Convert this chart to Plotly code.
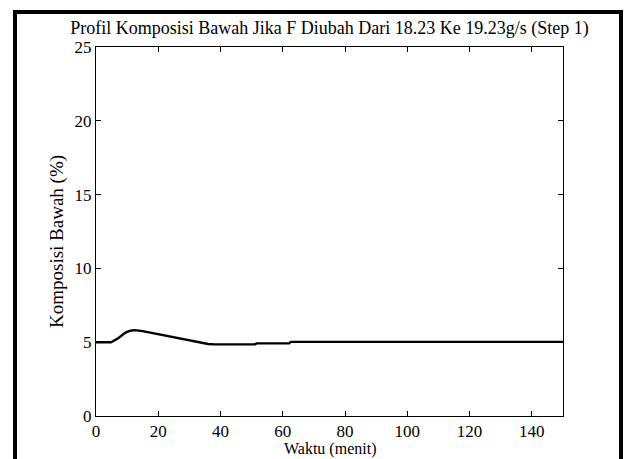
import plotly.graph_objects as go

# Bottom composition response after the feed-rate step
waktu = [0, 4.8, 7, 9.5, 11, 12.5, 15, 20, 25, 30, 33, 36, 38, 51, 51.6, 62, 62.6, 150]
komposisi = [5.0, 5.0, 5.25, 5.65, 5.78, 5.82, 5.75, 5.55, 5.32, 5.1, 4.98, 4.88, 4.85,
             4.85, 4.92, 4.92, 5.02, 5.02]

x_ticks = [0, 20, 40, 60, 80, 100, 120, 140]
y_ticks = [0, 5, 10, 15, 20, 25]

judul = "Profil Komposisi Bawah Jika F Diubah Dari 18.23 Ke 19.23g/s (Step 1)"
label_x = "Waktu (menit)"
label_y = "Komposisi Bawah (%)"

FONT = "Liberation Serif"

fig = go.Figure()
fig.add_trace(go.Scatter(
    x=waktu, y=komposisi, mode="lines",
    line=dict(color="black", width=2.4),
    hoverinfo="skip", showlegend=False,
))

axis_common = dict(
    showline=True, linecolor="black", linewidth=1, mirror="allticks",
    ticks="inside", ticklen=5, tickwidth=1, tickcolor="black",
    showgrid=False, zeroline=False,
    tickfont=dict(family=FONT, size=17, color="black"),
)

fig.update_xaxes(range=[0, 150], tickvals=x_ticks, **axis_common)
fig.update_yaxes(range=[0, 25], tickvals=y_ticks, **axis_common)

fig.update_layout(
    width=624, height=459,
    margin=dict(l=96, r=61, t=47, b=43),
    paper_bgcolor="white", plot_bgcolor="white",
    font=dict(family=FONT, size=17, color="black"),
    title=dict(text=judul, x=0.5, xref="paper", xanchor="center",
               y=1 - 28 / 459, yref="container", yanchor="middle",
               font=dict(family=FONT, size=18, color="black")),
    annotations=[
        dict(text=label_x, xref="paper", yref="paper", x=0.5, y=(416 - 449) / 369,
             xanchor="center", yanchor="middle", showarrow=False,
             font=dict(family=FONT, size=16, color="black")),
        dict(text=label_y, xref="paper", yref="paper", x=(57 - 96) / 467, y=(416 - 242) / 369,
             xanchor="center", yanchor="middle", textangle=-90, showarrow=False,
             font=dict(family=FONT, size=19, color="black")),
    ],
    shapes=[
        # outer frame around the figure
        dict(type="rect", xref="paper", yref="paper",
             x0=(15 - 96) / 467, x1=(621 - 96) / 467,
             y0=(416 - 480) / 369, y1=(416 - 12) / 369,
             line=dict(color="black", width=4), fillcolor="rgba(0,0,0,0)"),
    ],
)

fig.write_html("out.html")
